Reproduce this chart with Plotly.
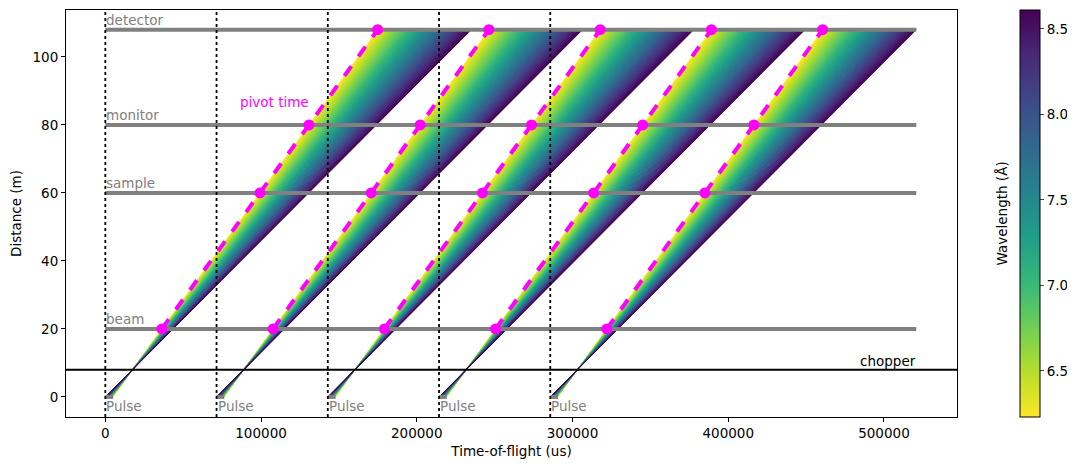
import plotly.graph_objects as go
from plotly.colors import sample_colorscale

# ---- data ----
pulse_starts = [0, 71429, 142857, 214286, 285714]          # us
pulse_length = 5000                                         # us
component_names = ["beam", "sample", "monitor", "detector"]
component_dist = [20, 60, 80, 108]                          # m
chopper_dist = 8                                            # m
chopper_open = 17400                                        # us after pulse start
wavelengths = [6.23, 6.28, 6.33, 6.38, 6.43, 6.48, 6.53, 6.58, 6.63, 6.68,
               6.73, 6.78, 6.83, 6.88, 6.93, 6.98, 7.03, 7.08, 7.13, 7.18,
               7.23, 7.28, 7.33, 7.38, 7.43, 7.48, 7.53, 7.58, 7.63, 7.68,
               7.73, 7.78, 7.83, 7.88, 7.93, 7.98, 8.03, 8.08, 8.13, 8.18,
               8.23, 8.28, 8.33, 8.38, 8.43, 8.48, 8.53, 8.58, 8.61]  # Angstrom
pivot_dist = [20, 60, 80, 108]
wl_min, wl_max = 6.23, 8.61
US_PER_M_PER_A = 252.78   # time-of-flight per metre per Angstrom (us)
xticks = [0, 100000, 200000, 300000, 400000, 500000]
yticks = [0, 20, 40, 60, 80, 100]
cticks = [6.5, 7.0, 7.5, 8.0, 8.5]

OFF = 8  # page body margin
W, H = 1075 - OFF, 470 - OFF
L = 66 - OFF; R = 957 - OFF; T = 10 - OFF; B = 417 - OFF
FONT = "DejaVu Sans"
FS = 13.5

fig = go.Figure()

d_max = max(component_dist)


def ray(t0, wl):
    tb = t0 + chopper_open - chopper_dist * wl * US_PER_M_PER_A
    return tb, tb + d_max * wl * US_PER_M_PER_A


t_end = max(ray(t0, wl)[1] for t0 in pulse_starts for wl in wavelengths)

# ray fans: band between consecutive wavelengths, coloured by mid wavelength;
# each band slightly tucks under the next one to hide anti-aliasing seams
n = len(wavelengths)
for i in range(n - 1):
    w1, w2 = wavelengths[i], wavelengths[i + 1]
    w2x = w2 + 0.4 * (w2 - w1) if i < n - 2 else w2
    frac = ((w1 + w2) / 2 - wl_min) / (wl_max - wl_min)
    col = sample_colorscale("Viridis_r", [min(max(frac, 0), 1)])[0]
    for t0 in pulse_starts:
        b1, a1 = ray(t0, w1)
        b2, a2 = ray(t0, w2x)
        fig.add_trace(go.Scatter(x=[b1, a1, a2, b2, b1], y=[0, d_max, d_max, 0, 0],
                                 mode="lines", fill="toself",
                                 fillcolor=col, line=dict(color=col, width=0.5),
                                 hoverinfo="skip", showlegend=False))

# component lines
for name, d in zip(component_names, component_dist):
    fig.add_trace(go.Scatter(x=[0, t_end], y=[d, d], mode="lines",
                             line=dict(color="#808080", width=4),
                             hoverinfo="skip", showlegend=False))
    fig.add_annotation(x=0, y=d, text=name, showarrow=False, xanchor="left",
                       yanchor="bottom", yshift=0, xshift=-1,
                       font=dict(color="#808080", size=FS, family=FONT))

# pulses
for t0 in pulse_starts:
    fig.add_trace(go.Scatter(x=[t0, t0 + pulse_length], y=[0, 0], mode="lines",
                             line=dict(color="#808080", width=4),
                             hoverinfo="skip", showlegend=False))
    fig.add_annotation(x=t0, y=0, text="Pulse", showarrow=False, xanchor="left",
                       yanchor="top", yshift=1, xshift=-1,
                       font=dict(color="#808080", size=FS, family=FONT))
    fig.add_shape(type="line", xref="x", yref="paper", x0=t0, x1=t0, y0=0, y1=1,
                  line=dict(color="black", width=1.8, dash="dot"))

# pivot time lines
for t0 in pulse_starts:
    tb = t0 + chopper_open - chopper_dist * wl_min * US_PER_M_PER_A
    px = [tb + d * wl_min * US_PER_M_PER_A for d in pivot_dist]
    fig.add_trace(go.Scatter(x=px, y=pivot_dist, mode="lines+markers",
                             line=dict(color="magenta", width=4, dash="dash"),
                             marker=dict(color="magenta", size=11),
                             hoverinfo="skip", showlegend=False))
fig.add_annotation(x=85000, y=84, text="pivot time", showarrow=False,
                   xanchor="left", yanchor="bottom", yshift=-1,
                   font=dict(color="magenta", size=FS, family=FONT))

# chopper
fig.add_shape(type="line", xref="paper", yref="y", x0=0, x1=1, y0=chopper_dist,
              y1=chopper_dist, line=dict(color="black", width=1.8))
fig.add_annotation(x=t_end, y=chopper_dist, text="chopper", showarrow=False,
                   xanchor="right", yanchor="bottom", yshift=-1, xshift=2,
                   font=dict(color="black", size=FS, family=FONT))

# colorbar
pw = R - L
fig.add_trace(go.Scatter(x=[None], y=[None], mode="markers",
                         marker=dict(color=[wl_min, wl_max], cmin=wl_min, cmax=wl_max,
                                     colorscale="Viridis_r", showscale=True,
                                     colorbar=dict(x=(1020 - OFF - L) / pw, xanchor="left",
                                                   xpad=0, ypad=0, y=0.5, len=1,
                                                   lenmode="fraction",
                                                   thickness=20, outlinewidth=1,
                                                   outlinecolor="black",
                                                   tickvals=cticks, tickformat=".1f",
                                                   ticks="outside", ticklen=4,
                                                   tickfont=dict(size=FS, family=FONT))),
                         hoverinfo="skip", showlegend=False))
fig.add_annotation(xref="paper", yref="paper", x=(1011 - OFF - L) / pw, y=0.5,
                   text="Wavelength (Å)", textangle=-90, showarrow=False,
                   xanchor="right", yanchor="middle",
                   font=dict(size=FS, family=FONT, color="black"))

axis_common = dict(showgrid=False, zeroline=False, showline=True, linecolor="black",
                   linewidth=1, mirror=True, ticks="outside", ticklen=4,
                   tickcolor="black", tickfont=dict(size=FS, family=FONT, color="black"))
fig.update_xaxes(range=[-25250, 546900], tickvals=xticks,
                 ticktext=[str(v) for v in xticks],
                 title=dict(text="Time-of-flight (us)", standoff=6,
                            font=dict(size=FS, family=FONT, color="black")),
                 **axis_common)
fig.update_yaxes(range=[-5.9, 113.8], tickvals=yticks,
                 title=dict(text="Distance (m)", standoff=8,
                            font=dict(size=FS, family=FONT, color="black")),
                 **axis_common)
fig.update_layout(width=W, height=H, margin=dict(l=L, r=W - R, t=T, b=H - B),
                  plot_bgcolor="white", paper_bgcolor="white",
                  font=dict(family=FONT, size=FS, color="black"))

fig.write_html("out.html")
